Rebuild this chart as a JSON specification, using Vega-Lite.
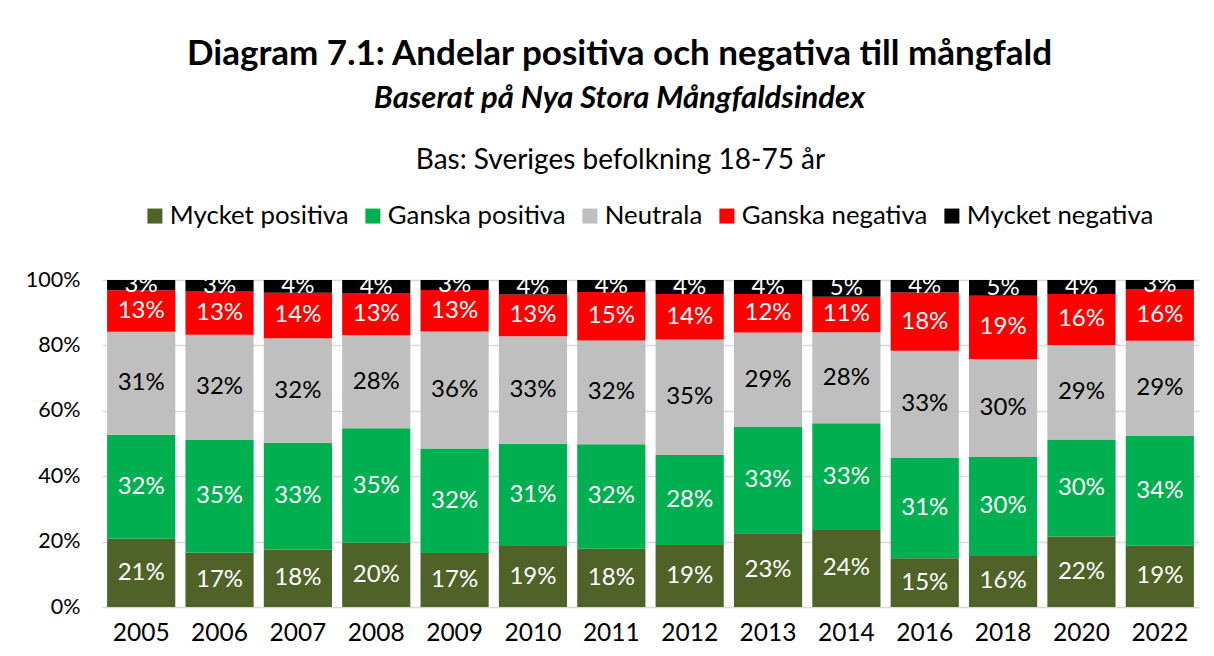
{
  "$schema": "https://vega.github.io/schema/vega-lite/v6.json",
  "autosize": "none",
  "width": 1097,
  "height": 327,
  "padding": {"left": 102, "top": 280, "right": 15, "bottom": 49},
  "background": "white",
  "config": {
    "font": "Lato",
    "view": {"stroke": null}
  },
  "title": {
    "text": "Diagram 7.1: Andelar positiva och negativa till mångfald",
    "subtitle": "Baserat på Nya Stora Mångfaldsindex",
    "anchor": "middle",
    "frame": "group",
    "dx": -31,
    "fontSize": 35,
    "fontWeight": "bold",
    "color": "black",
    "subtitleFontSize": 31,
    "subtitleFontStyle": "italic",
    "subtitleFontWeight": "bold",
    "subtitleColor": "black",
    "subtitlePadding": 12,
    "offset": 32
  },
  "data": {
    "values": [
      {"year": "2005", "cat": "Mycket positiva", "o": 1, "v": 0.208},
      {"year": "2005", "cat": "Ganska positiva", "o": 2, "v": 0.318},
      {"year": "2005", "cat": "Neutrala", "o": 3, "v": 0.314},
      {"year": "2005", "cat": "Ganska negativa", "o": 4, "v": 0.127},
      {"year": "2005", "cat": "Mycket negativa", "o": 5, "v": 0.031},
      {"year": "2006", "cat": "Mycket positiva", "o": 1, "v": 0.166},
      {"year": "2006", "cat": "Ganska positiva", "o": 2, "v": 0.346},
      {"year": "2006", "cat": "Neutrala", "o": 3, "v": 0.322},
      {"year": "2006", "cat": "Ganska negativa", "o": 4, "v": 0.134},
      {"year": "2006", "cat": "Mycket negativa", "o": 5, "v": 0.034},
      {"year": "2007", "cat": "Mycket positiva", "o": 1, "v": 0.176},
      {"year": "2007", "cat": "Ganska positiva", "o": 2, "v": 0.326},
      {"year": "2007", "cat": "Neutrala", "o": 3, "v": 0.320},
      {"year": "2007", "cat": "Ganska negativa", "o": 4, "v": 0.139},
      {"year": "2007", "cat": "Mycket negativa", "o": 5, "v": 0.039},
      {"year": "2008", "cat": "Mycket positiva", "o": 1, "v": 0.196},
      {"year": "2008", "cat": "Ganska positiva", "o": 2, "v": 0.350},
      {"year": "2008", "cat": "Neutrala", "o": 3, "v": 0.284},
      {"year": "2008", "cat": "Ganska negativa", "o": 4, "v": 0.128},
      {"year": "2008", "cat": "Mycket negativa", "o": 5, "v": 0.041},
      {"year": "2009", "cat": "Mycket positiva", "o": 1, "v": 0.166},
      {"year": "2009", "cat": "Ganska positiva", "o": 2, "v": 0.320},
      {"year": "2009", "cat": "Neutrala", "o": 3, "v": 0.359},
      {"year": "2009", "cat": "Ganska negativa", "o": 4, "v": 0.127},
      {"year": "2009", "cat": "Mycket negativa", "o": 5, "v": 0.031},
      {"year": "2010", "cat": "Mycket positiva", "o": 1, "v": 0.186},
      {"year": "2010", "cat": "Ganska positiva", "o": 2, "v": 0.312},
      {"year": "2010", "cat": "Neutrala", "o": 3, "v": 0.328},
      {"year": "2010", "cat": "Ganska negativa", "o": 4, "v": 0.128},
      {"year": "2010", "cat": "Mycket negativa", "o": 5, "v": 0.044},
      {"year": "2011", "cat": "Mycket positiva", "o": 1, "v": 0.178},
      {"year": "2011", "cat": "Ganska positiva", "o": 2, "v": 0.320},
      {"year": "2011", "cat": "Neutrala", "o": 3, "v": 0.317},
      {"year": "2011", "cat": "Ganska negativa", "o": 4, "v": 0.148},
      {"year": "2011", "cat": "Mycket negativa", "o": 5, "v": 0.037},
      {"year": "2012", "cat": "Mycket positiva", "o": 1, "v": 0.190},
      {"year": "2012", "cat": "Ganska positiva", "o": 2, "v": 0.276},
      {"year": "2012", "cat": "Neutrala", "o": 3, "v": 0.354},
      {"year": "2012", "cat": "Ganska negativa", "o": 4, "v": 0.139},
      {"year": "2012", "cat": "Mycket negativa", "o": 5, "v": 0.043},
      {"year": "2013", "cat": "Mycket positiva", "o": 1, "v": 0.226},
      {"year": "2013", "cat": "Ganska positiva", "o": 2, "v": 0.326},
      {"year": "2013", "cat": "Neutrala", "o": 3, "v": 0.290},
      {"year": "2013", "cat": "Ganska negativa", "o": 4, "v": 0.118},
      {"year": "2013", "cat": "Mycket negativa", "o": 5, "v": 0.043},
      {"year": "2014", "cat": "Mycket positiva", "o": 1, "v": 0.236},
      {"year": "2014", "cat": "Ganska positiva", "o": 2, "v": 0.327},
      {"year": "2014", "cat": "Neutrala", "o": 3, "v": 0.279},
      {"year": "2014", "cat": "Ganska negativa", "o": 4, "v": 0.109},
      {"year": "2014", "cat": "Mycket negativa", "o": 5, "v": 0.051},
      {"year": "2016", "cat": "Mycket positiva", "o": 1, "v": 0.149},
      {"year": "2016", "cat": "Ganska positiva", "o": 2, "v": 0.307},
      {"year": "2016", "cat": "Neutrala", "o": 3, "v": 0.328},
      {"year": "2016", "cat": "Ganska negativa", "o": 4, "v": 0.178},
      {"year": "2016", "cat": "Mycket negativa", "o": 5, "v": 0.038},
      {"year": "2018", "cat": "Mycket positiva", "o": 1, "v": 0.156},
      {"year": "2018", "cat": "Ganska positiva", "o": 2, "v": 0.303},
      {"year": "2018", "cat": "Neutrala", "o": 3, "v": 0.299},
      {"year": "2018", "cat": "Ganska negativa", "o": 4, "v": 0.194},
      {"year": "2018", "cat": "Mycket negativa", "o": 5, "v": 0.048},
      {"year": "2020", "cat": "Mycket positiva", "o": 1, "v": 0.216},
      {"year": "2020", "cat": "Ganska positiva", "o": 2, "v": 0.297},
      {"year": "2020", "cat": "Neutrala", "o": 3, "v": 0.290},
      {"year": "2020", "cat": "Ganska negativa", "o": 4, "v": 0.156},
      {"year": "2020", "cat": "Mycket negativa", "o": 5, "v": 0.043},
      {"year": "2022", "cat": "Mycket positiva", "o": 1, "v": 0.187},
      {"year": "2022", "cat": "Ganska positiva", "o": 2, "v": 0.336},
      {"year": "2022", "cat": "Neutrala", "o": 3, "v": 0.291},
      {"year": "2022", "cat": "Ganska negativa", "o": 4, "v": 0.157},
      {"year": "2022", "cat": "Mycket negativa", "o": 5, "v": 0.029}
    ]
  },
  "encoding": {
    "x": {
      "field": "year",
      "type": "nominal",
      "scale": {"paddingInner": 0.13, "paddingOuter": 0.065},
      "axis": {
        "title": null,
        "labelAngle": 0,
        "labelFontSize": 24.5,
        "labelColor": "black",
        "labelPadding": 14,
        "domain": false,
        "ticks": false
      }
    },
    "y": {
      "field": "v",
      "type": "quantitative",
      "stack": "normalize",
      "scale": {"domain": [0, 1]},
      "axis": {
        "values": [0, 0.2, 0.4, 0.6, 0.8, 1],
        "format": ".0%",
        "labelFontSize": 21.5,
        "labelColor": "black",
        "labelPadding": 22,
        "domain": false,
        "ticks": false,
        "gridColor": "#D9D9D9",
        "gridWidth": 1.3,
        "title": "Bas: Sveriges befolkning 18-75 år",
        "titleAngle": 0,
        "titleX": 518,
        "titleY": -112,
        "titleAlign": "center",
        "titleBaseline": "alphabetic",
        "titleFontSize": 28,
        "titleFontWeight": "normal",
        "titleColor": "black"
      }
    },
    "order": {"field": "o", "type": "quantitative", "sort": "ascending"}
  },
  "layer": [
    {
      "mark": {"type": "bar"},
      "encoding": {
        "color": {
          "field": "cat",
          "type": "nominal",
          "sort": ["Mycket positiva", "Ganska positiva", "Neutrala", "Ganska negativa", "Mycket negativa"],
          "scale": {
            "domain": ["Mycket positiva", "Ganska positiva", "Neutrala", "Ganska negativa", "Mycket negativa"],
            "range": ["#4F6228", "#00B050", "#BFBFBF", "#FF0000", "#000000"]
          },
          "legend": {
            "title": null,
            "orient": "none",
            "direction": "horizontal",
            "legendX": 40,
            "legendY": -77,
            "padding": 0,
            "symbolType": "square",
            "symbolSize": 225,
            "symbolStrokeWidth": 0,
            "labelFontSize": 25.8,
            "labelLimit": 400,
            "labelColor": "black",
            "labelOffset": 2,
            "columnPadding": 11
          }
        }
      }
    },
    {
      "mark": {"type": "text", "fontSize": 24, "baseline": "middle", "align": "center"},
      "encoding": {
        "y": {
          "field": "v",
          "type": "quantitative",
          "stack": "normalize",
          "bandPosition": 0.5
        },
        "color": {
          "field": "cat",
          "type": "nominal",
          "sort": ["Mycket positiva", "Ganska positiva", "Neutrala", "Ganska negativa", "Mycket negativa"],
          "scale": {
            "domain": ["Mycket positiva", "Ganska positiva", "Neutrala", "Ganska negativa", "Mycket negativa"],
            "range": ["white", "white", "black", "white", "white"]
          },
          "legend": null
        },
        "text": {"field": "v", "type": "quantitative", "format": ".0%"}
      }
    }
  ],
  "resolve": {"scale": {"color": "independent"}}
}
